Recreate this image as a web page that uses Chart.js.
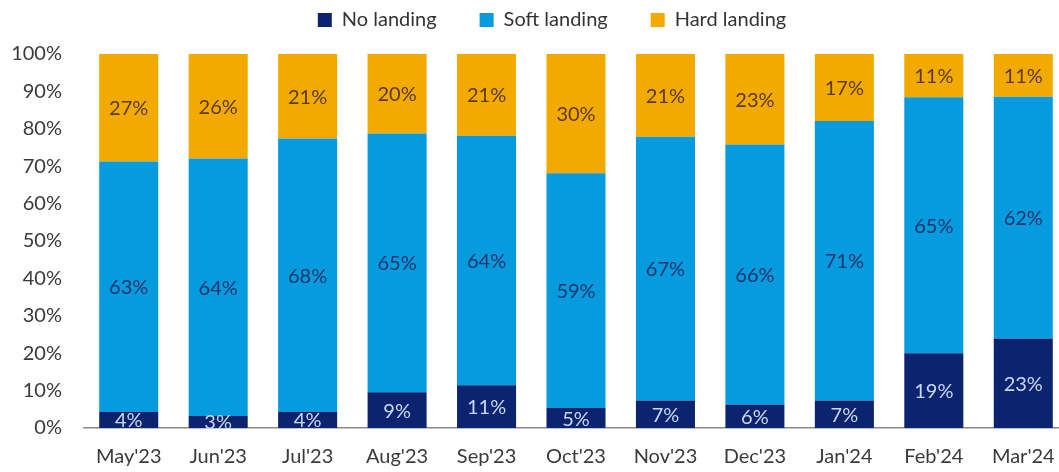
<!DOCTYPE html>
<html>
<head>
<meta charset="utf-8">
<script src="https://cdn.jsdelivr.net/npm/chart.js@4.4.1/dist/chart.umd.min.js"></script>
<style>
  html, body { margin: 0; padding: 0; background: #ffffff; overflow: hidden; }
  #wrap { width: 1076px; height: 472px; position: relative; }
</style>
</head>
<body>
<div id="wrap"><canvas id="c" width="1076" height="472"></canvas></div>
<script>
const categories = ["May'23", "Jun'23", "Jul'23", "Aug'23", "Sep'23", "Oct'23", "Nov'23", "Dec'23", "Jan'24", "Feb'24", "Mar'24"];
const noLanding   = [4, 3, 4, 9, 11, 5, 7, 6, 7, 19, 23];
const softLanding = [63, 64, 68, 65, 64, 59, 67, 66, 71, 65, 62];
const hardLanding = [27, 26, 21, 20, 21, 30, 21, 23, 17, 11, 11];
const yTicks = [0, 10, 20, 30, 40, 50, 60, 70, 80, 90, 100];

const totals = categories.map((_, i) => noLanding[i] + softLanding[i] + hardLanding[i]);
const share = arr => arr.map((v, i) => v / totals[i] * 100);

const FONT = "Lato, 'Open Sans', sans-serif";
const LEGEND_PAD = 43;

const labelPlugin = {
  id: 'segLabels',
  afterDatasetsDraw(chart) {
    const ctx = chart.ctx;
    ctx.save();
    ctx.font = "20px " + FONT;
    ctx.textAlign = 'center';
    ctx.textBaseline = 'middle';
    chart.data.datasets.forEach((ds, di) => {
      const meta = chart.getDatasetMeta(di);
      meta.data.forEach((bar, i) => {
        const p = bar.getProps(['x', 'y', 'base'], true);
        const cy = (p.y + p.base) / 2;
        ctx.fillStyle = ds.labelColor;
        ctx.fillText(ds.raw[i] + '%', p.x, cy + 1);
      });
    });
    ctx.restore();
  }
};

const legendTweak = {
  id: 'legendTweak',
  beforeInit(chart) {
    const lg = chart.legend;
    if (!lg) return;
    const origFit = lg.fit;
    lg.fit = function () {
      origFit.call(this);
      this.height = 54;
    };
  },
  afterLayout(chart) {
    const lg = chart.legend;
    if (!lg) return;
    lg.left += 18;
    lg.right += 18;
    lg.top = 10 - LEGEND_PAD;
  }
};

new Chart(document.getElementById('c'), {
  type: 'bar',
  data: {
    labels: categories,
    datasets: [
      { label: 'No landing', data: share(noLanding), raw: noLanding, backgroundColor: '#0c2470', labelColor: '#c9d8f0' },
      { label: 'Soft landing', data: share(softLanding), raw: softLanding, backgroundColor: '#069ade', labelColor: '#17366a' },
      { label: 'Hard landing', data: share(hardLanding), raw: hardLanding, backgroundColor: '#f3aa00', labelColor: '#5a3a10' }
    ]
  },
  options: {
    responsive: false,
    animation: false,
    events: [],
    layout: { padding: { left: 0, right: 8, top: 0, bottom: 0 } },
    datasets: { bar: { categoryPercentage: 1, barPercentage: 0.66 } },
    plugins: {
      legend: {
        display: true,
        position: 'top',
        labels: {
          font: { family: FONT, size: 20 },
          color: '#333333',
          boxWidth: 14,
          boxHeight: 14,
          padding: LEGEND_PAD
        }
      },
      tooltip: { enabled: false }
    },
    scales: {
      x: {
        stacked: true,
        grid: { display: false, drawTicks: false },
        border: { display: true, color: '#8a8a8a', width: 1.5 },
        ticks: { font: { family: FONT, size: 20 }, color: '#3a3a3a', padding: 17, maxRotation: 0, autoSkip: false },
        afterFit(s) { s.height = 44; }
      },
      y: {
        stacked: true,
        min: 0,
        max: 100,
        afterBuildTicks(s) { s.ticks = yTicks.map(v => ({ value: v })); },
        grid: { display: false, drawTicks: false },
        border: { display: false },
        ticks: { font: { family: FONT, size: 20 }, color: '#3a3a3a', padding: 22, callback: v => v + '%' },
        afterFit(s) { s.width = 84; }
      }
    }
  },
  plugins: [labelPlugin, legendTweak]
});
</script>
</body>
</html>
